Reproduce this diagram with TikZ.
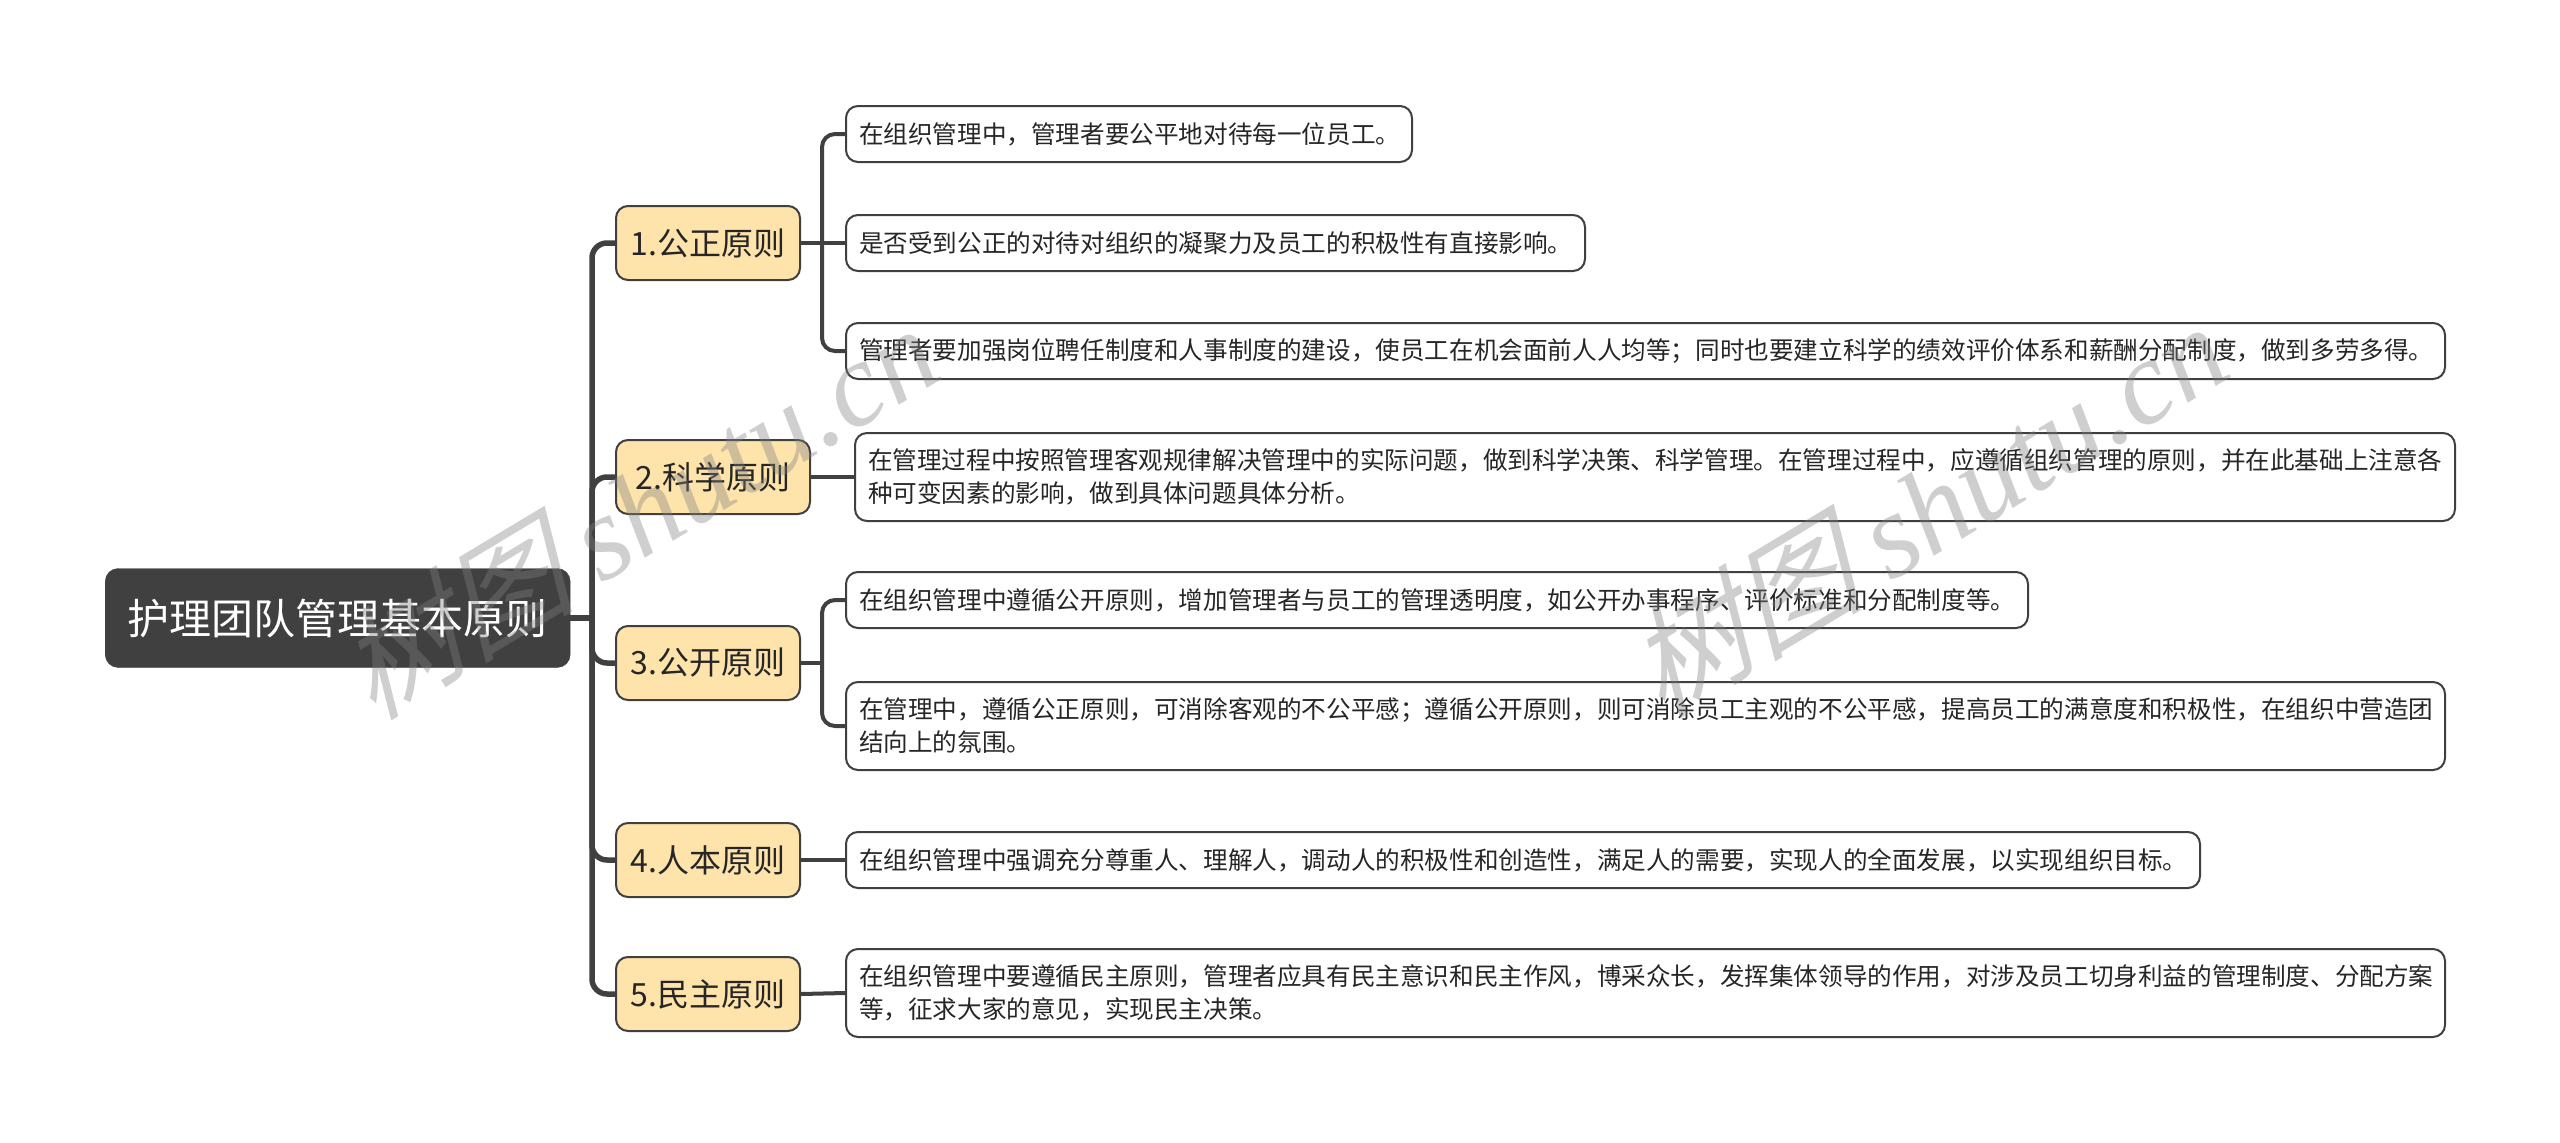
\documentclass[tikz,border=0pt]{standalone}
\usepackage{fontspec}
\setmainfont{Noto Sans CJK SC}
\newfontfamily\wmlatin{Liberation Serif}
\newfontfamily\wmcjk[FakeSlant=0.3]{Noto Sans CJK SC}
\definecolor{inkgray}{HTML}{404040}
\definecolor{branchfill}{HTML}{FEE3AB}

\begin{document}
\begin{tikzpicture}[x=1pt,y=1pt,
  rootbox/.style={anchor=west,fill=inkgray,draw=inkgray,rounded corners=13pt,minimum width=465pt,minimum height=99pt,text=white,font=\fontsize{42}{50}\selectfont},
  branchbox/.style={anchor=west,fill=branchfill,draw=inkgray,line width=2pt,rounded corners=12pt,minimum height=74pt,text=black!85,font=\fontsize{32}{38}\selectfont},
  leafbox/.style={anchor=west,fill=white,draw=inkgray,line width=2pt,rounded corners=12pt,minimum height=56pt,inner xsep=13pt,align=left,text=black!85,font=\fontsize{24.6}{33}\selectfont},
  trunk/.style={draw=inkgray,line width=5.5pt,rounded corners=15pt},
  twig/.style={draw=inkgray,line width=4pt,rounded corners=13pt},
  mark text/.style={rotate=31,text=gray,text opacity=0.38,font=\fontsize{120}{126}\selectfont}]
\useasboundingbox (0,0) rectangle (2560,-1143);

\node[rootbox] (root) at (105,-618) {护理团队管理基本原则};

\node[branchbox,minimum width=184pt] (gongzheng) at (615,-243) {1.公正原则};
\node[branchbox,minimum width=194pt] (kexue) at (615,-477) {2.科学原则};
\node[branchbox,minimum width=184pt] (gongkai) at (615,-663) {3.公开原则};
\node[branchbox,minimum width=184pt] (renben) at (615,-860) {4.人本原则};
\node[branchbox,minimum width=184pt] (minzhu) at (615,-994) {5.民主原则};

\node[leafbox,text width=540pt] (leafa) at (845,-134) {在组织管理中，管理者要公平地对待每一位员工。};
\node[leafbox,text width=713pt] (leafb) at (845,-243) {是否受到公正的对待对组织的凝聚力及员工的积极性有直接影响。};
\node[leafbox,text width=1573pt] (leafc) at (845,-351) {管理者要加强岗位聘任制度和人事制度的建设，使员工在机会面前人人均等；同时也要建立科学的绩效评价体系和薪酬分配制度，做到多劳多得。};
\node[leafbox,text width=1574pt,minimum height=88pt] (leafd) at (854,-477) {在管理过程中按照管理客观规律解决管理中的实际问题，做到科学决策、科学管理。在管理过程中，应遵循组织管理的原则，并在此基础上注意各\\种可变因素的影响，做到具体问题具体分析。};
\node[leafbox,text width=1156pt] (leafe) at (845,-600) {在组织管理中遵循公开原则，增加管理者与员工的管理透明度，如公开办事程序、评价标准和分配制度等。};
\node[leafbox,text width=1573pt,minimum height=88pt] (leaff) at (845,-726) {在管理中，遵循公正原则，可消除客观的不公平感；遵循公开原则，则可消除员工主观的不公平感，提高员工的满意度和积极性，在组织中营造团\\结向上的氛围。};
\node[leafbox,text width=1328pt] (leafg) at (845,-860) {在组织管理中强调充分尊重人、理解人，调动人的积极性和创造性，满足人的需要，实现人的全面发展，以实现组织目标。};
\node[leafbox,text width=1573pt,minimum height=88pt] (leafh) at (845,-993) {在组织管理中要遵循民主原则，管理者应具有民主意识和民主作风，博采众长，发挥集体领导的作用，对涉及员工切身利益的管理制度、分配方案\\等，征求大家的意见，实现民主决策。};

% joints
\coordinate (rootjoint) at (592,-618);
\coordinate (gongzhengjoint) at (822,-243);
\coordinate (gongkaijoint) at (822,-663);

\draw[trunk] (root.east) -- (rootjoint);
\draw[trunk] (rootjoint) |- (gongzheng.west);
\draw[trunk] (rootjoint) |- (kexue.west);
\draw[trunk] (rootjoint) |- (gongkai.west);
\draw[trunk] (rootjoint) |- (renben.west);
\draw[trunk] (rootjoint) |- (minzhu.west);

\draw[twig] (gongzheng.east) -- (leafb.west);
\draw[twig] (gongzhengjoint) |- (leafa.west);
\draw[twig] (gongzhengjoint) |- (leafc.west);
\draw[twig] (kexue.east) -- (leafd.west);
\draw[twig] (gongkai.east) -- (gongkaijoint);
\draw[twig] (gongkaijoint) |- (leafe.west);
\draw[twig] (gongkaijoint) |- (leaff.west);
\draw[twig] (renben.east) -- (leafg.west);
\draw[twig] (minzhu.east) -- (leafh.west);

\node[mark text] (marka) at (636,-510) {{\wmcjk 树图} {\wmlatin\itshape shutu.cn}};
\node[mark text] (markb) at (1925,-508) {{\wmcjk 树图} {\wmlatin\itshape shutu.cn}};
\end{tikzpicture}
\end{document}
